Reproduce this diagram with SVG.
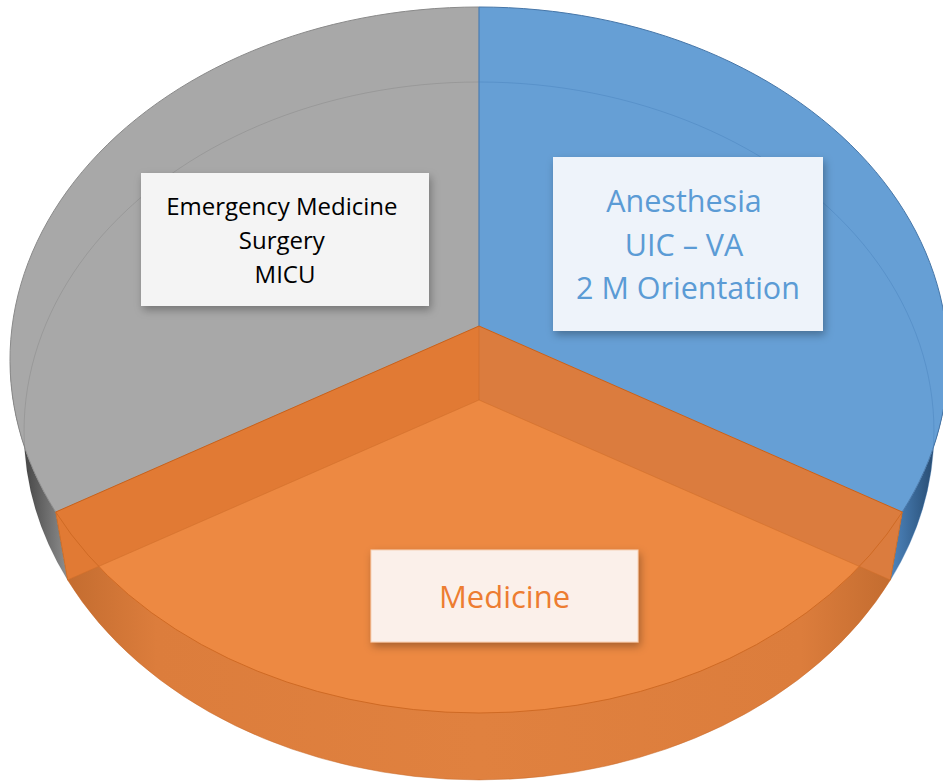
<svg xmlns="http://www.w3.org/2000/svg" width="943" height="784" viewBox="0 0 943 784">
  <style>
    .lbl { font-family: "Open Sans", "Noto Sans", "Liberation Sans", sans-serif; text-anchor: middle; }
    .box { filter: url(#shadow); }
    .edge { fill: none; stroke-width: 1; }
  </style>
  <defs>
    <filter id="shadow" x="-10%" y="-10%" width="130%" height="140%">
      <feDropShadow dx="2" dy="4" stdDeviation="4" flood-color="#000" flood-opacity="0.3"/>
    </filter>
    <linearGradient id="gSide" x1="10" y1="0" x2="68" y2="0" gradientUnits="userSpaceOnUse">
      <stop offset="0" stop-color="#2e2e2e"/>
      <stop offset="0.5" stop-color="#5f5f5f"/>
      <stop offset="1" stop-color="#8f8f8f"/>
    </linearGradient>
    <linearGradient id="bSide" x1="948" y1="0" x2="890" y2="0" gradientUnits="userSpaceOnUse">
      <stop offset="0" stop-color="#1f3a58"/>
      <stop offset="0.5" stop-color="#34608d"/>
      <stop offset="1" stop-color="#4f86bf"/>
    </linearGradient>
    <linearGradient id="oWall" x1="55" y1="0" x2="903" y2="0" gradientUnits="userSpaceOnUse">
      <stop offset="0" stop-color="#c06a2e"/>
      <stop offset="0.12" stop-color="#dc7d3c"/>
      <stop offset="0.5" stop-color="#e0813f"/>
      <stop offset="0.88" stop-color="#dc7d3c"/>
      <stop offset="1" stop-color="#c06a2e"/>
    </linearGradient>
    <clipPath id="topClip">
      <path d="M479,326 L55.7,512 A469,353 0 0,0 902.3,512 Z"/>
    </clipPath>
  </defs>

  <!-- outer side slivers -->
  <g id="side-walls">
    <path d="M10,360 A469,353 0 0,0 55.7,512 L67.6,580 A455,349 0 0,1 24,431 Z" fill="url(#gSide)"/>
    <path d="M948,360 A469,353 0 0,1 902.3,512 L890.4,580 A455,349 0 0,0 934,431 Z" fill="url(#bSide)"/>
  </g>

  <!-- gray slice -->
  <g id="slice-gray">
    <path d="M479,326 L479,7 A469,353 0 0,0 55.7,512 Z" fill="#a8a8a8"/>
    <path class="edge" d="M479,7 A469,353 0 0,0 55.7,512" stroke="#8a8a8a"/>
    <path class="edge" d="M479,82 A455,349 0 0,0 67.6,580" stroke="#000" stroke-opacity="0.09"/>
  </g>

  <!-- blue slice -->
  <g id="slice-blue">
    <path d="M479,326 L479,7 A469,353 0 0,1 902.3,512 Z" fill="#669fd5"/>
    <path class="edge" d="M479,7 A469,353 0 0,1 902.3,512" stroke="#4676a8"/>
    <path class="edge" d="M479,82 A455,349 0 0,1 890.4,580" stroke="#3f78b4" stroke-opacity="0.35"/>
    <line x1="479" y1="7" x2="479" y2="326" stroke="#4a7db3" stroke-width="1.2"/>
  </g>

  <!-- orange slice -->
  <g id="slice-orange">
    <path d="M479,326 L55.7,512 L67.6,580 A455,349 0 0,0 890.4,580 L902.3,512 Z" fill="url(#oWall)"/>
    <path d="M479,326 L55.7,512 A469,353 0 0,0 902.3,512 Z" fill="#df7e3d"/>
    <path d="M479,326 L55.7,512 L67.6,580 L479,400 Z" fill="#e17a34"/>
    <path d="M479,326 L902.3,512 L890.4,580 L479,400 Z" fill="#db7c3e"/>
    <path d="M479,400 L67.6,580 A455,349 0 0,0 890.4,580 Z" fill="#ed8942" clip-path="url(#topClip)"/>
    <path class="edge" d="M55.7,512 L479,326 L902.3,512" stroke="#c4621f"/>
    <path class="edge" d="M55.7,512 A469,353 0 0,0 902.3,512" stroke="#cf6a24"/>
    <path class="edge" d="M67.6,580 L479,400 L890.4,580" stroke="#d06f2c" stroke-opacity="0.6"/>
    <path class="edge" d="M67.6,580 A455,349 0 0,0 890.4,580" stroke="#c86a2a" stroke-opacity="0.5"/>
    <path class="edge" d="M55.7,512 L67.6,580 M902.3,512 L890.4,580" stroke="#c4661f" stroke-opacity="0.7"/>
    <line x1="479" y1="326" x2="479" y2="400" stroke="#c96a28" stroke-opacity="0.5"/>
  </g>

  <!-- labels -->
  <g id="label-gray">
    <rect class="box" x="141" y="173" width="288" height="133" fill="#f4f4f4"/>
    <text class="lbl" font-size="24" fill="#000">
      <tspan x="285" y="215">Emergency Medicine</tspan>
      <tspan x="285" y="249">Surgery</tspan>
      <tspan x="285" y="283">MICU</tspan>
    </text>
  </g>

  <g id="label-blue">
    <rect class="box" x="553" y="157" width="270" height="174" fill="#eef3fa"/>
    <text class="lbl" font-size="30.5" fill="#5b9bd5">
      <tspan x="688" y="212">Anesthesia</tspan>
      <tspan x="688" y="256">UIC – VA</tspan>
      <tspan x="688" y="299">2 M Orientation</tspan>
    </text>
  </g>

  <g id="label-orange">
    <rect class="box" x="371" y="550" width="267" height="92" fill="#fbf0ea" stroke="#f6d2b8" stroke-width="1"/>
    <text class="lbl" font-size="31" fill="#ed7d31" x="504.5" y="608">Medicine</text>
  </g>
</svg>
